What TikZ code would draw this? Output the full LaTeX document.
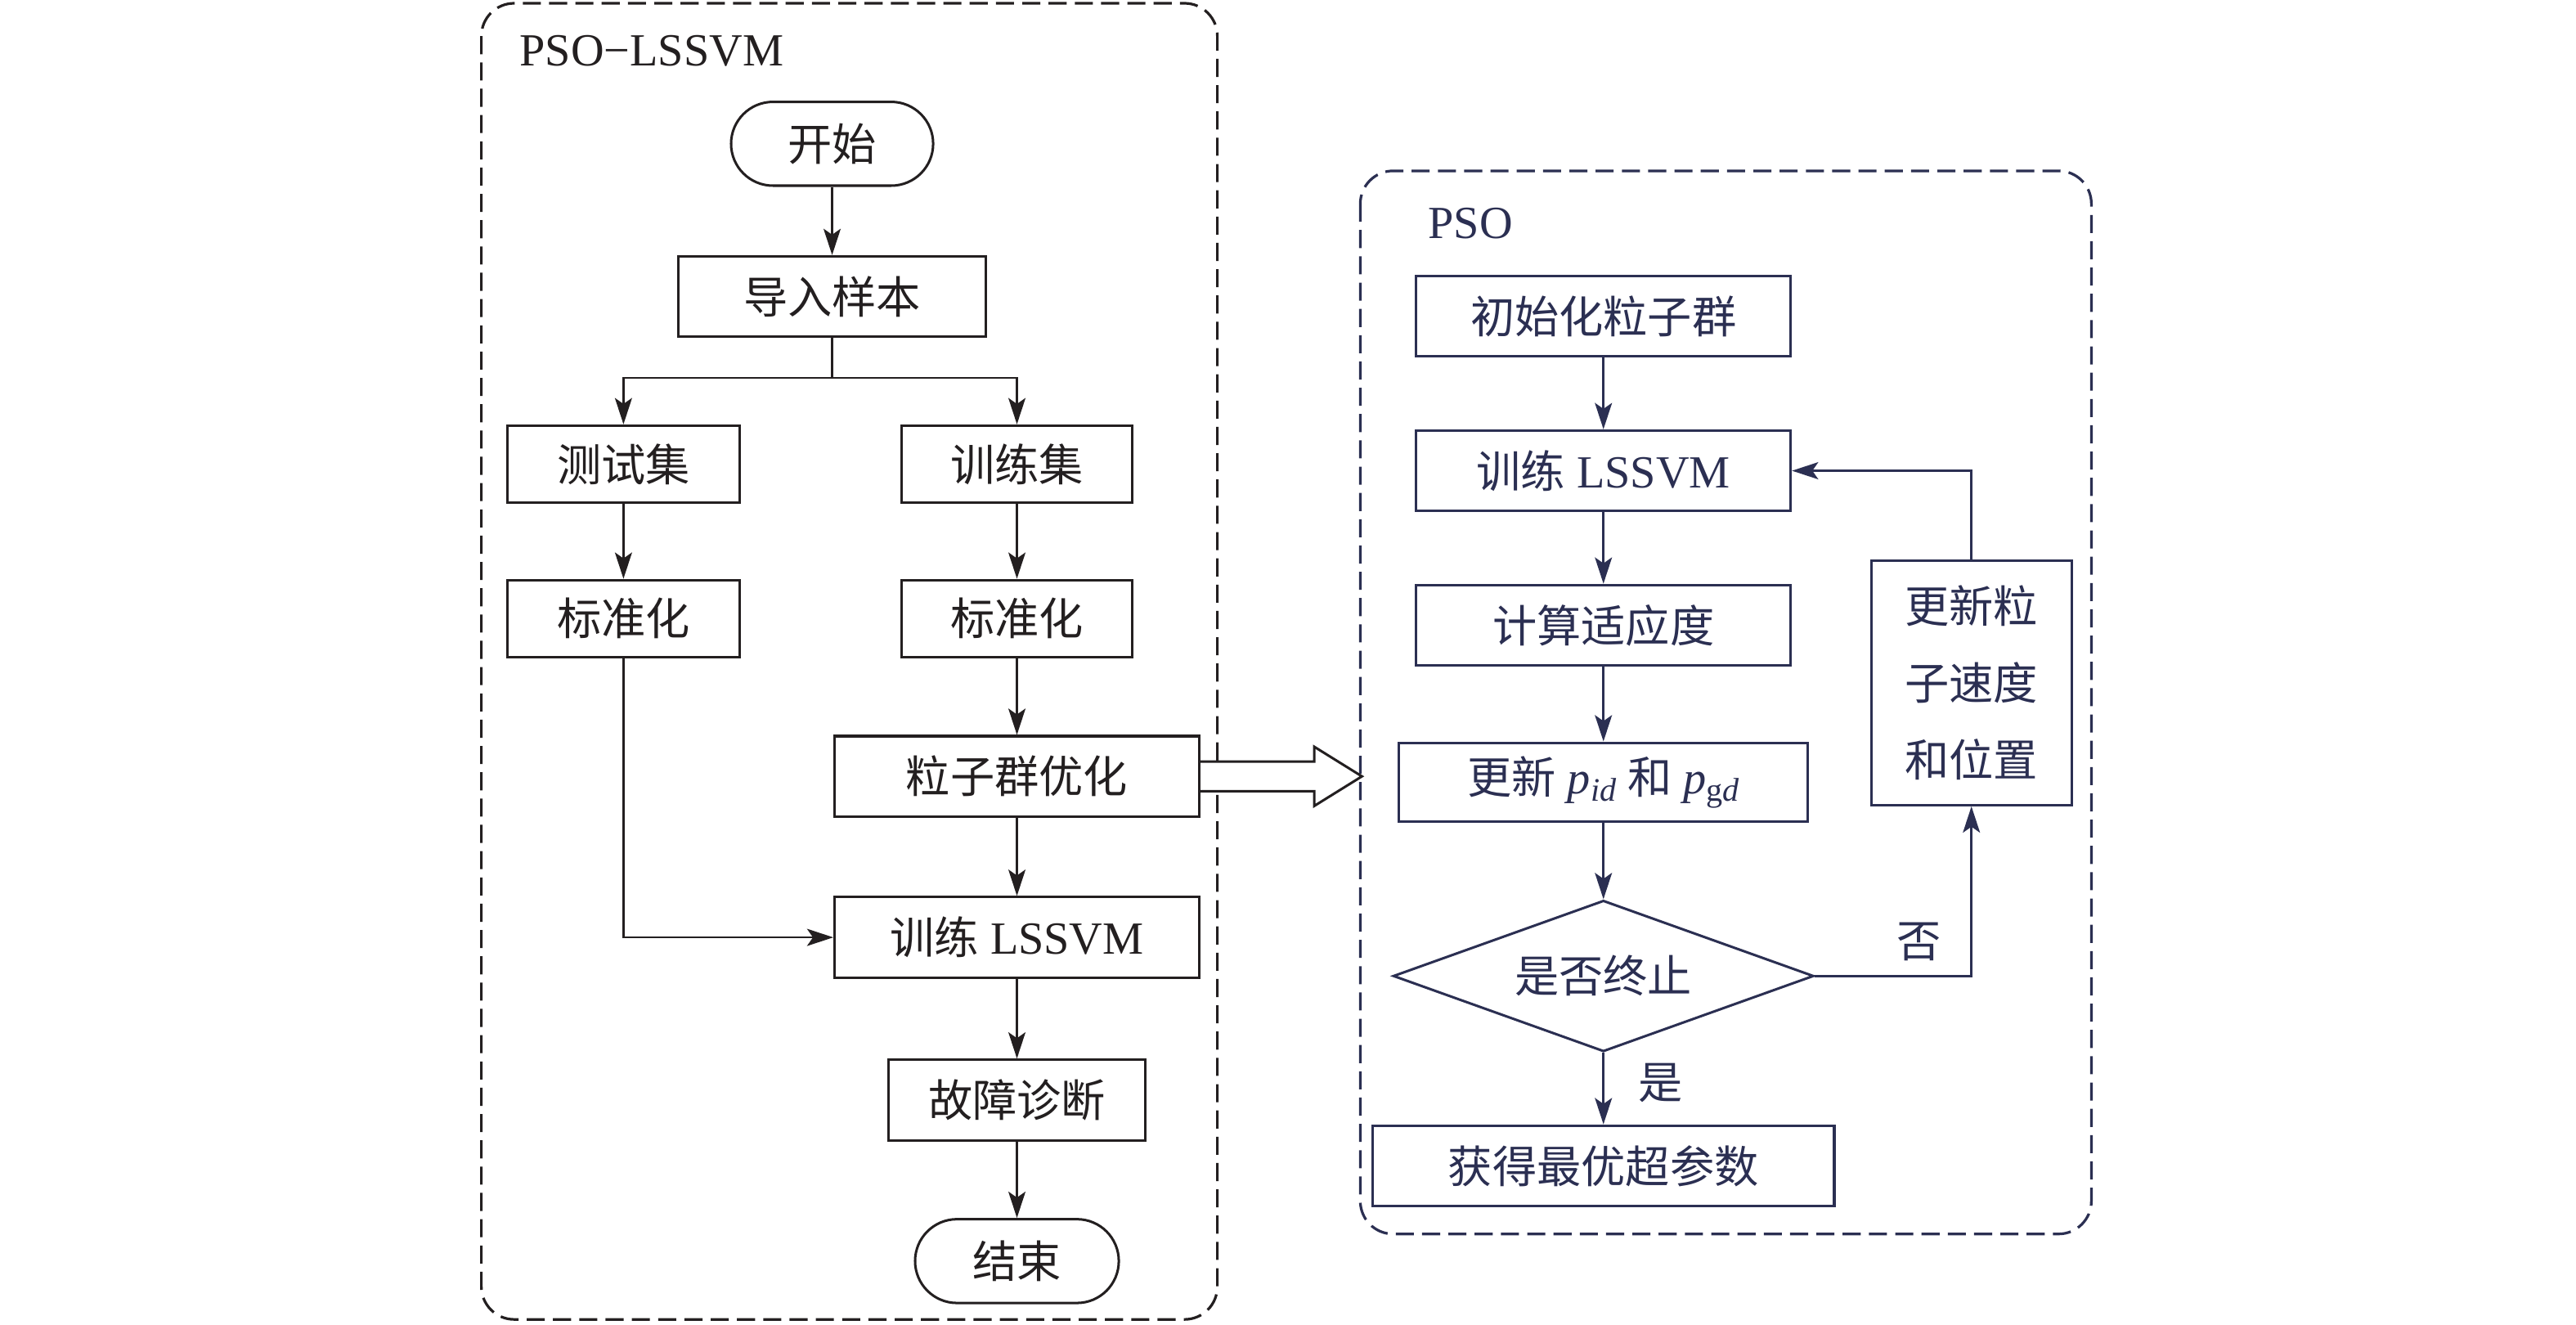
\documentclass[tikz,border=0pt]{standalone}
\usepackage{fontspec}
\setmainfont{Liberation Serif}
\newfontfamily\cjk{Noto Sans CJK SC}
\usetikzlibrary{arrows.meta,shapes.geometric,calc}
\definecolor{ink}{HTML}{231F20}
\definecolor{navy}{HTML}{2B2F52}
\newcommand\zh[1]{{\cjk\fontsize{13.5}{16}\selectfont #1}}
\begin{document}
\begin{tikzpicture}[x=0.5pt,y=-0.5pt,
  every node/.style={font=\fontsize{14}{16}\selectfont},
  box/.style={draw, line width=0.75pt, inner sep=0pt, minimum height=24.5pt, align=center},
  term/.style={box, rounded corners=12.75pt, minimum height=25.5pt},
  arr/.style={line width=0.65pt, -{Stealth[length=8pt,width=5.2pt,inset=1.8pt]}},
  ln/.style={line width=0.65pt},
  group/.style={line width=0.8pt, dash pattern=on 5.5pt off 2.5pt, rounded corners=10pt},
  lab/.style={inner sep=0pt}
]
\useasboundingbox (0,0) rectangle (1568,806.4);

% ---------- left group ----------
\begin{scope}[color=ink]
\draw[group] (293,2) rectangle (741,803);
\node[lab, anchor=west] (ltitle) at (316,31) {PSO−LSSVM};

\node[term, minimum width=61.5pt] (start) at (506.5,87.5) {\zh{开始}};
\node[box, minimum width=93.5pt] (imp) at (506.5,180.5) {\zh{导入样本}};
\node[box, minimum width=70.5pt, minimum height=23.5pt] (test) at (379.5,282.5) {\zh{测试集}};
\node[box, minimum width=70pt, minimum height=23.5pt] (train) at (619,282.5) {\zh{训练集}};
\node[box, minimum width=70.5pt, minimum height=23.5pt] (stdl) at (379.5,376.5) {\zh{标准化}};
\node[box, minimum width=70pt, minimum height=23.5pt] (stdr) at (619,376.5) {\zh{标准化}};
\node[box, minimum width=111pt] (pso) at (619,472.5) {\zh{粒子群优化}};
\node[box, minimum width=111pt] (lssvm) at (619,570.5) {\zh{训练} LSSVM};
\node[box, minimum width=78pt] (diag) at (619,669.5) {\zh{故障诊断}};
\node[term, minimum width=62pt] (end) at (619,767.5) {\zh{结束}};

\coordinate (br) at (506.5,230);
\draw[arr] (start) -- (imp);
\draw[ln] (imp.south) -- (br);
\draw[arr] (br) -| (test.north);
\draw[arr] (br) -| (train.north);
\draw[arr] (test) -- (stdl);
\draw[arr] (train) -- (stdr);
\draw[arr] (stdr) -- (pso);
\draw[arr] (pso) -- (lssvm);
\draw[arr] (lssvm) -- (diag);
\draw[arr] (diag) -- (end);
\draw[arr] (stdl.south) |- (lssvm.west);
\end{scope}

% ---------- right group ----------
\begin{scope}[color=navy]
\draw[group] (828,104) rectangle (1273,751);
\node[lab, anchor=west] (rtitle) at (869,136) {PSO};

\node[box, minimum width=114pt] (init) at (976,192.5) {\zh{初始化粒子群}};
\node[box, minimum width=114pt] (rtrain) at (976,286.5) {\zh{训练} LSSVM};
\node[box, minimum width=114pt] (fit) at (976,380.5) {\zh{计算适应度}};
\node[box, minimum width=124.5pt, minimum height=24pt] (upd) at (976,476)
  {\zh{更新} \textit{p}\raisebox{-0.35ex}{\fontsize{10}{12}\selectfont\textit{id}} \zh{和} \textit{p}\raisebox{-0.35ex}{\fontsize{10}{12}\selectfont g\textit{d}}};
\node[draw, diamond, line width=0.75pt, inner sep=0pt, aspect=2.78,
      minimum width=128pt, minimum height=46pt] (dec) at (976,594) {\zh{是否终止}};
\node[box, minimum width=140.5pt] (best) at (976,709.5) {\zh{获得最优超参数}};
\node[box, minimum width=61pt, minimum height=74.5pt,
      font=\cjk\fontsize{13.5}{23.5}\selectfont] (vel) at (1200,415.5) {更新粒\\子速度\\和位置};

\draw[arr] (init) -- (rtrain);
\draw[arr] (rtrain) -- (fit);
\draw[arr] (fit) -- (upd);
\draw[arr] (upd) -- (dec);
\draw[arr] (dec) -- (best);
\draw[arr] (dec.east) -| (vel.south);
\draw[arr] (vel.north) |- (rtrain.east);
\node[lab] (no) at (1168,573) {\zh{否}};
\node[lab] (yes) at (1011,659) {\zh{是}};
\end{scope}

% ---------- hollow arrow ----------
\coordinate (tip) at (829,472.5);
\draw[ink, line width=0.75pt, fill=white, line join=miter]
  ($(pso.east)+(0,-9)$) -- (800,463.5) -- (800,454.5) -- (tip)
  -- (800,490.5) -- (800,481.5) -- ($(pso.east)+(0,9)$);
\end{tikzpicture}
\end{document}
